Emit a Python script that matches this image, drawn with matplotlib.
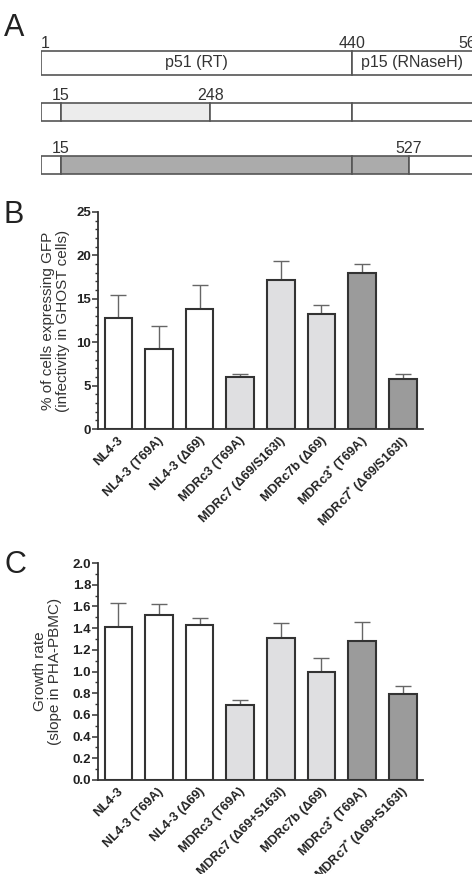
import numpy as np
import matplotlib
matplotlib.use("Agg")
import matplotlib.pyplot as plt
from matplotlib.ticker import MultipleLocator, FormatStrFormatter
import matplotlib.transforms as mtrans

plt.rcParams['font.family'] = ['Liberation Sans', 'DejaVu Sans']
plt.rcParams['mathtext.fontset'] = 'custom'
plt.rcParams['mathtext.rm'] = 'Liberation Sans'
plt.rcParams['mathtext.bf'] = 'Liberation Sans:bold'

# ---------------- data ----------------
# Panel A: RT protein schematic (residue numbers)
protein_bounds = [1, 440, 560]
domain_names = ["p51 (RT)", "p15 (RNaseH)"]
construct1_region = [15, 248]
construct2_region = [15, 527]

# Panels B and C
strains_B = ["NL4-3", "NL4-3 (T69A)", "NL4-3 (Δ69)", "MDRc3 (T69A)",
             "MDRc7 (Δ69/S163I)", "MDRc7b (Δ69)",
             r"MDRc3$^{\mathbf{*}}$ (T69A)", r"MDRc7$^{\mathbf{*}}$ (Δ69/S163I)"]
strains_C = ["NL4-3", "NL4-3 (T69A)", "NL4-3 (Δ69)", "MDRc3 (T69A)",
             "MDRc7 (Δ69+S163I)", "MDRc7b (Δ69)",
             r"MDRc3$^{\mathbf{*}}$ (T69A)", r"MDRc7$^{\mathbf{*}}$ (Δ69+S163I)"]
gfp_mean = [12.8, 9.2, 13.8, 6.0, 17.2, 13.2, 18.0, 5.8]
gfp_err = [2.6, 2.7, 2.8, 0.35, 2.2, 1.1, 1.0, 0.55]
growth_mean = [1.41, 1.52, 1.43, 0.69, 1.31, 1.00, 1.28, 0.79]
growth_err = [0.22, 0.10, 0.06, 0.05, 0.14, 0.12, 0.18, 0.08]
groups = ["wt", "wt", "wt", "light", "light", "light", "dark", "dark"]

# ---------------- style ----------------
W, H = 472, 874
fig = plt.figure(figsize=(W / 100, H / 100), dpi=100)
group_color = {"wt": "white", "light": "#dfdfe1", "dark": "#9b9b9b"}
edge = "#333333"

def px_axes(x0, y0, x1, y1):
    return fig.add_axes([x0 / W, 1 - y1 / H, (x1 - x0) / W, (y1 - y0) / H])

# ---------------- Panel A ----------------
# schematic (not-to-scale) mapping of residues to horizontal layout
anc_res = np.array([-1000, 1, 15, 248, 440, 527, 560, 3000], float)
anc_px = np.array([-1001, 0, 20, 169, 310, 367, 430, 2870], float)
fwd = lambda r: np.interp(r, anc_res, anc_px)
inv = lambda p: np.interp(p, anc_px, anc_res)

axA = px_axes(41, 36, 472, 180)
axA.set_xscale('function', functions=(fwd, inv))
axA.set_xlim(1, 560)
axA.set_ylim(180, 36)
axA.axis('off')

rows = [(51, 75), (103, 121), (156, 174)]
start, mid, end = protein_bounds
light_A, dark_A = "#ececec", "#ababab"

def draw_segments(row, segs):
    y0, y1 = row
    for a, b, c in segs:
        axA.barh((y0 + y1) / 2, b - a, left=a, height=y1 - y0, color=c,
                 edgecolor="#555555", linewidth=1.2)

draw_segments(rows[0], [(start, mid, "white"), (mid, end + 5, "white")])
draw_segments(rows[1], [(start, construct1_region[0], "white"),
                        (construct1_region[0], construct1_region[1], light_A),
                        (construct1_region[1], mid, "white"),
                        (mid, end + 5, "white")])
draw_segments(rows[2], [(start, construct2_region[0], "white"),
                        (construct2_region[0], mid, dark_A),
                        (mid, construct2_region[1], dark_A),
                        (construct2_region[1], end + 5, "white")])

fsA = 11.5
axA.text(start, 48, str(start), ha='left', va='baseline', fontsize=fsA, color='#333')
axA.text(mid, 48, str(mid), ha='center', va='baseline', fontsize=fsA, color='#333')
axA.text(end, 48, str(end), ha='center', va='baseline', fontsize=fsA, color='#333',
         clip_on=False)
for (a, b), name in zip([(start, mid), (mid, end)], domain_names):
    xm = inv((fwd(a) + fwd(b)) / 2)
    axA.text(xm, 63, name, ha='center', va='center', fontsize=fsA, color='#333')
for v in construct1_region:
    axA.text(v, 100, str(v), ha='center', va='baseline', fontsize=fsA, color='#333')
for v in construct2_region:
    axA.text(v, 153, str(v), ha='center', va='baseline', fontsize=fsA, color='#333')

# ---------------- Panels B, C ----------------
def bar_panel(ax, means, errs, labels, ylim, major, minor, fmt, ylabel, label_x):
    x = np.arange(len(means))
    colors = [group_color[g] for g in groups]
    ax.bar(x, means, width=0.68, color=colors, edgecolor=edge, linewidth=1.5,
           zorder=2)
    ax.errorbar(x, means, yerr=[np.zeros(len(errs)), errs], fmt='none',
                ecolor='#666666', elinewidth=1.0, capsize=5.5, capthick=1.0,
                zorder=1)
    ax.set_xlim(-0.5, len(means) - 0.5)
    ax.set_ylim(*ylim)
    ax.yaxis.set_major_locator(MultipleLocator(major))
    ax.yaxis.set_minor_locator(MultipleLocator(minor))
    ax.yaxis.set_major_formatter(FormatStrFormatter(fmt))
    for s in ['top', 'right']:
        ax.spines[s].set_visible(False)
    for s in ['left', 'bottom']:
        ax.spines[s].set_color(edge)
        ax.spines[s].set_linewidth(1.3)
    ax.tick_params(axis='y', which='major', length=4, width=1.1, color=edge,
                   pad=1, labelsize=9.5, labelcolor='#222')
    ax.tick_params(axis='y', which='minor', length=2.5, width=1.0, color=edge)
    for t in ax.get_yticklabels():
        t.set_fontweight('bold')
    ax.set_xticks(x)
    ax.set_xticklabels(labels, rotation=45, ha='right', va='center',
                       rotation_mode='anchor', fontsize=9.2, fontweight='bold',
                       color='#222')
    ax.tick_params(axis='x', length=0, pad=7)
    off = mtrans.ScaledTranslation(3 / 100, 0, fig.dpi_scale_trans)
    for t in ax.get_xticklabels():
        t.set_transform(t.get_transform() + off)
    ax.set_ylabel(ylabel, fontsize=11, color='#333', linespacing=1.1)
    ax.yaxis.set_label_coords(label_x, 0.5)

axB = px_axes(98, 212, 423, 429)
bar_panel(axB, gfp_mean, gfp_err, strains_B, (0, 25), 5, 1, '%d',
          "% of cells expressing GFP\n(infectivity in GHOST cells)", -0.085)

axC = px_axes(98, 563, 423, 780)
bar_panel(axC, growth_mean, growth_err, strains_C, (0, 2.0), 0.2, 0.1, '%.1f',
          "Growth rate\n(slope in PHA-PBMC)", -0.11)

# panel letters
for letter, yb in [("A", 36), ("B", 223), ("C", 573)]:
    fig.text(4 / W, 1 - yb / H, letter, fontsize=22, color='#222',
             ha='left', va='baseline')

fig.savefig("out.png", dpi=100)
